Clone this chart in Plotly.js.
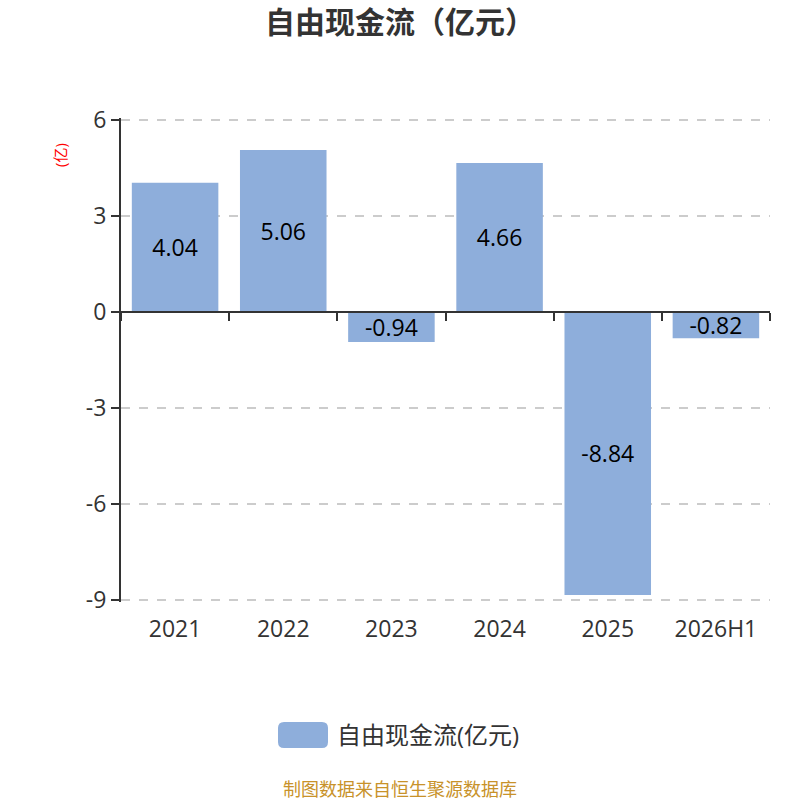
<!DOCTYPE html>
<html>
<head>
<meta charset="utf-8">
<script src="https://cdn.plot.ly/plotly-3.0.1.min.js"></script>
<style>
  body { margin: 0; background: #fff; }
  #chart { width: 800px; height: 800px; }
</style>
</head>
<body>
<div id="chart"></div>
<script>
// chart data
const categories = ["2021", "2022", "2023", "2024", "2025", "2026H1"];
const values = [4.04, 5.06, -0.94, 4.66, -8.84, -0.82];
const yTicks = [6, 3, 0, -3, -6, -9];
const seriesName = "自由现金流(亿元)";

const fontFamily = '"Open Sans", "Noto Sans CJK SC", sans-serif';
const barColor = "#8eaedb";

// plot area in pixels: x 121..770, y 118..602 (2px pad so end gridlines are kept)
const plotL = 121, plotR = 770, plotT = 118, plotB = 602;
const yMin = -9.0625, yMax = 6.0625;
const px = (x) => (x - plotL) / (plotR - plotL);
const py = (y) => (plotB - y) / (plotB - plotT);

let traces = [
  {
    type: "bar",
    x: categories,
    y: values,
    name: seriesName,
    marker: { color: barColor, line: { width: 0 } },
    text: values.map((v) => v.toFixed(2)),
    textposition: "inside",
    insidetextanchor: "middle",
    constraintext: "none",
    textfont: { family: fontFamily, size: 23, color: "#000" },
    hoverinfo: "x+y",
  },
  // invisible trace so the zero-line axis (ticks between categories) is drawn
  {
    type: "bar",
    x: categories,
    y: values.map(() => 0),
    xaxis: "x2",
    showlegend: false,
    hoverinfo: "skip",
    marker: { color: "rgba(0,0,0,0)" },
  },
];

// rounded legend swatch, sits under plotly's own small swatch
function roundRect(w, h, r) {
  const a = w / 2, b = h / 2;
  return `M${-a + r},${-b} L${a - r},${-b} Q${a},${-b} ${a},${-b + r} ` +
    `L${a},${b - r} Q${a},${b} ${a - r},${b} L${-a + r},${b} ` +
    `Q${-a},${b} ${-a},${b - r} L${-a},${-b + r} Q${-a},${-b} ${-a + r},${-b} Z`;
}

let layout = {
  width: 800,
  height: 800,
  paper_bgcolor: "#fff",
  plot_bgcolor: "#fff",
  margin: { l: plotL, r: 800 - plotR, t: plotT, b: 800 - plotB },
  font: { family: fontFamily, color: "#333" },
  title: {
    text: "<b>自由现金流（亿元）</b>",
    font: { family: fontFamily, size: 30, color: "#333" },
    x: 0.5,
    xanchor: "center",
    y: 0.972,
    yanchor: "middle",
  },
  bargap: 0.2,
  showlegend: true,
  legend: {
    orientation: "h",
    x: px(277),
    xanchor: "left",
    y: py(735),
    yanchor: "middle",
    font: { family: fontFamily, size: 24, color: "#333" },
    itemwidth: 50,
    bgcolor: "rgba(0,0,0,0)",
  },
  xaxis: {
    type: "category",
    showline: false,
    ticks: "outside",
    ticklen: 6,
    tickcolor: "rgba(0,0,0,0)",
    showgrid: false,
    zeroline: false,
    tickfont: { family: fontFamily, size: 23, color: "#333" },
    fixedrange: true,
  },
  xaxis2: {
    type: "category",
    overlaying: "x",
    matches: "x",
    anchor: "free",
    position: (0 - yMin) / (yMax - yMin),
    side: "bottom",
    showline: true,
    linecolor: "#333",
    linewidth: 2,
    ticks: "outside",
    tickson: "boundaries",
    ticklen: 8,
    tickwidth: 2,
    tickcolor: "#333",
    showticklabels: false,
    showgrid: false,
    zeroline: false,
  },
  yaxis: {
    range: [yMin, yMax],
    tickvals: yTicks,
    ticktext: yTicks.map(String),
    showline: true,
    linecolor: "#333",
    linewidth: 2,
    ticks: "outside",
    ticklen: 8,
    tickwidth: 2,
    tickcolor: "#333",
    tickfont: { family: fontFamily, size: 23, color: "#333" },
    showgrid: true,
    gridcolor: "#cccccc",
    griddash: "dash",
    gridwidth: 1.5,
    zeroline: false,
    fixedrange: true,
  },
  shapes: [
    {
      type: "path",
      xref: "paper",
      yref: "paper",
      xsizemode: "pixel",
      ysizemode: "pixel",
      xanchor: px(303),
      yanchor: py(735),
      path: roundRect(50, 26, 6),
      fillcolor: barColor,
      line: { width: 0 },
      layer: "above",
    },
  ],
  annotations: [
    {
      text: "(亿)",
      xref: "paper",
      yref: "paper",
      x: px(60),
      y: py(155),
      xanchor: "center",
      yanchor: "middle",
      textangle: -90,
      showarrow: false,
      font: { family: fontFamily, size: 15, color: "#ff0000" },
    },
    {
      text: "制图数据来自恒生聚源数据库",
      xref: "paper",
      yref: "paper",
      x: px(400),
      y: py(789),
      xanchor: "center",
      yanchor: "middle",
      showarrow: false,
      font: { family: fontFamily, size: 18, color: "#c8922a" },
    },
  ],
};

Plotly.newPlot("chart", traces, layout, { displayModeBar: false, staticPlot: true });
</script>
</body>
</html>
